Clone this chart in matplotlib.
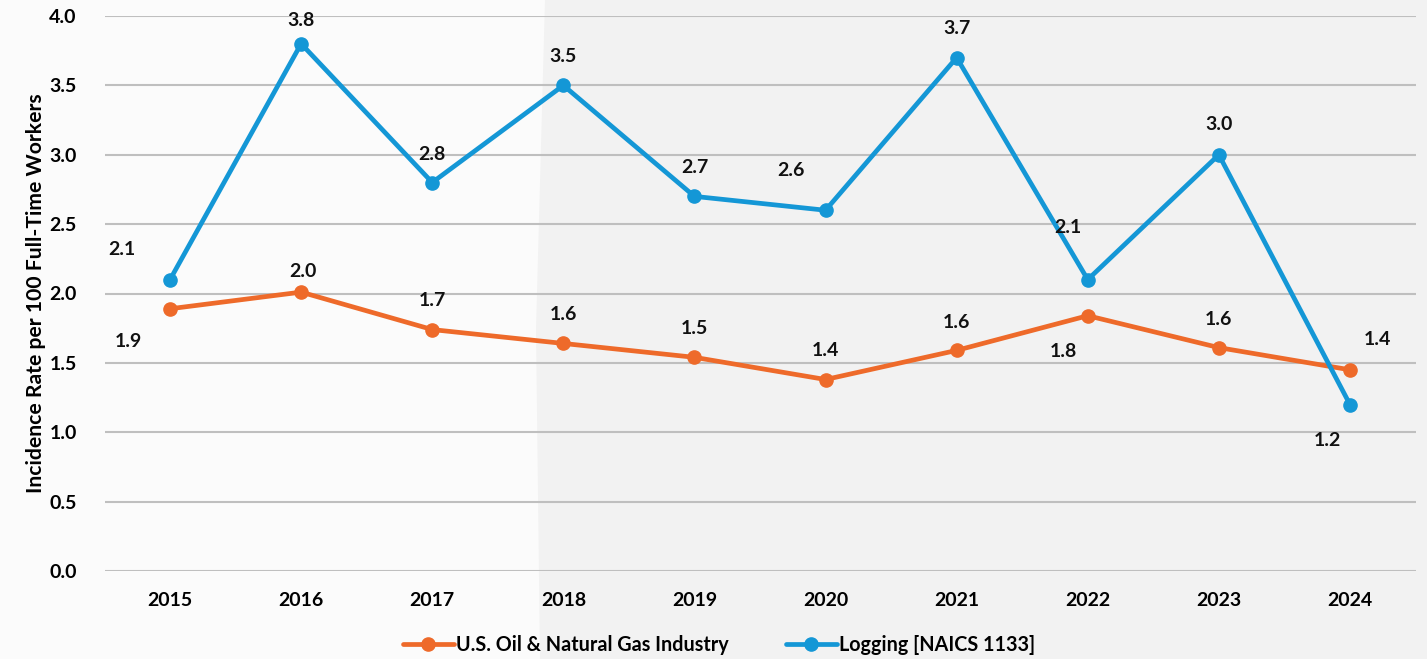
import matplotlib
matplotlib.use("Agg")
import matplotlib.pyplot as plt
from matplotlib.patches import Polygon

years = ["2015", "2016", "2017", "2018", "2019", "2020", "2021", "2022", "2023", "2024"]
oil_gas = [1.89, 2.01, 1.74, 1.64, 1.54, 1.38, 1.59, 1.84, 1.61, 1.45]
oil_gas_labels = ["1.9", "2.0", "1.7", "1.6", "1.5", "1.4", "1.6", "1.8", "1.6", "1.4"]
logging = [2.1, 3.8, 2.8, 3.5, 2.7, 2.6, 3.7, 2.1, 3.0, 1.2]
logging_labels = ["2.1", "3.8", "2.8", "3.5", "2.7", "2.6", "3.7", "2.1", "3.0", "1.2"]
series_names = ["U.S. Oil & Natural Gas Industry", "Logging [NAICS 1133]"]
yticks = [0.0, 0.5, 1.0, 1.5, 2.0, 2.5, 3.0, 3.5, 4.0]

# label offsets in pixels (dx, dy)
oil_off = [(-42, -33), (2, 21), (0, 29), (0, 29), (0, 29), (0, 29), (0, 28), (-24, -36), (0, 28), (28, 30)]
log_off = [(-48, 30), (0, 23), (0, 28), (0, 29), (0, 29), (-35, 40), (0, 29), (-20, 52), (0, 30), (-23, -36)]

plt.rcParams['font.family'] = ['Lato', 'DejaVu Sans']
plt.rcParams['font.weight'] = 'bold'

ORANGE = "#EE6A2A"
BLUE = "#1497D6"
FS = 14

fig = plt.figure(figsize=(14.27, 6.59), dpi=100)
fig.patch.set_facecolor("#FBFBFB")
W, H = 1427, 659
poly = Polygon([(545 / W, 1), (1, 1), (1, 0), (540 / W, 0), (536 / W, 0.5)],
               closed=True, transform=fig.transFigure, facecolor="#F2F2F2",
               edgecolor="none", zorder=-10)
fig.patches.append(poly)

ax = fig.add_axes([104.5 / W, 1 - 571 / H, (1415.5 - 104.5) / W, (571 - 16) / H])
ax.set_facecolor("none")
ax.set_zorder(1)

x = list(range(len(years)))
ax.plot(x, oil_gas, color=ORANGE, lw=3.4, marker="o", ms=9.5, label=series_names[0],
        zorder=3, solid_capstyle="round")
ax.plot(x, logging, color=BLUE, lw=3.4, marker="o", ms=9.5, label=series_names[1],
        zorder=3, solid_capstyle="round")

for xi, v, lab, off in zip(x, oil_gas, oil_gas_labels, oil_off):
    ax.annotate(lab, (xi, v), xytext=off, textcoords="offset pixels",
                ha="center", va="center", fontsize=FS, fontweight="bold", color="#111111")
for xi, v, lab, off in zip(x, logging, logging_labels, log_off):
    ax.annotate(lab, (xi, v), xytext=off, textcoords="offset pixels",
                ha="center", va="center", fontsize=FS, fontweight="bold", color="#111111")

ax.set_xlim(-0.5, len(years) - 0.5)
ax.set_ylim(0, 4.0)
ax.set_yticks(yticks)
ax.set_yticklabels([f"{t:.1f}" for t in yticks], fontsize=FS, fontweight="bold")
ax.set_xticks(x)
ax.set_xticklabels(years, fontsize=FS, fontweight="bold")
ax.tick_params(length=0)
ax.tick_params(axis="y", pad=20)
ax.tick_params(axis="x", pad=15)
ax.grid(axis="y", color="#BFBFBF", lw=1.5)
ax.set_axisbelow(True)
for s in ax.spines.values():
    s.set_visible(False)

ax.set_ylabel("Incidence Rate per 100 Full-Time Workers", fontsize=15.2, fontweight="bold")
ax.yaxis.set_label_coords(-(104.5 - 46) / (1415.5 - 104.5), (571 - 293.5) / (571 - 16))

fig.legend(loc="center", bbox_to_anchor=(719 / W, 1 - 645 / H), ncol=2, frameon=False,
           handlelength=2.6, columnspacing=2.9, handletextpad=0.1,
           prop={'weight': 'bold', 'size': 14.2})

fig.savefig("out.png", dpi=100, facecolor=fig.get_facecolor())
